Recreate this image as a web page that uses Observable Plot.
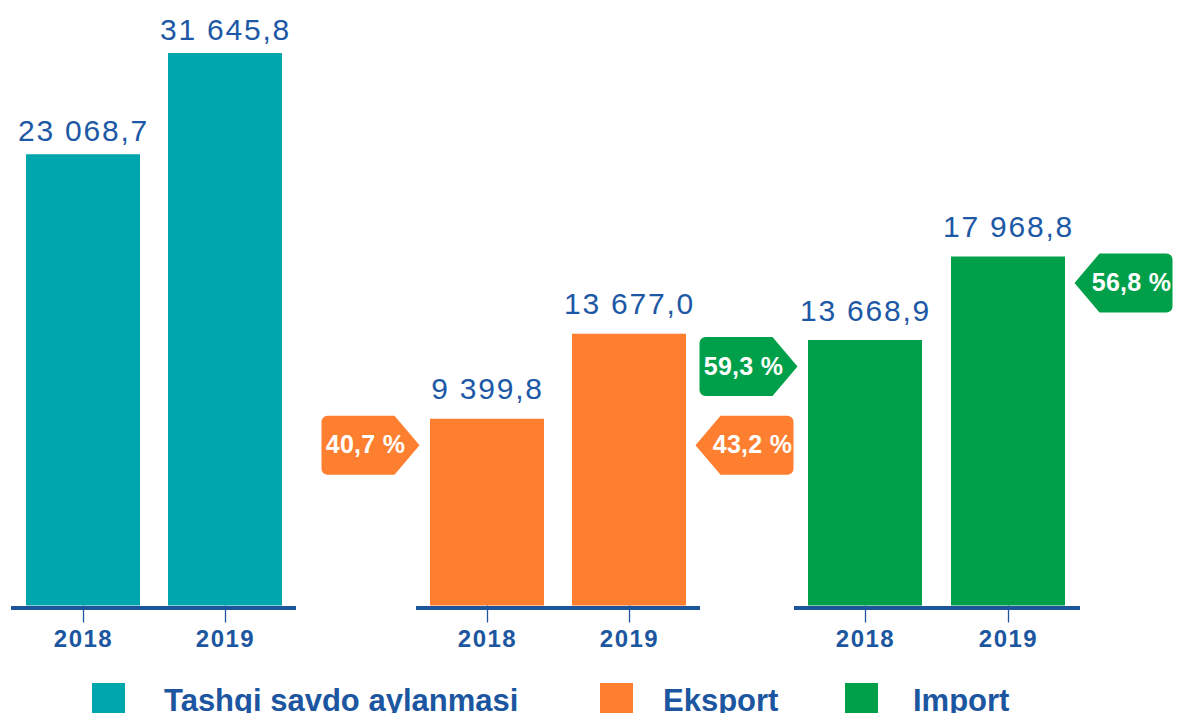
<!DOCTYPE html>
<html>
<head>
<meta charset="utf-8">
<script src="https://cdn.jsdelivr.net/npm/d3@7"></script>
<script src="https://cdn.jsdelivr.net/npm/@observablehq/plot@0.6"></script>
<style>
  body { margin: 0; background: #fff; font-family: Arial, "Liberation Sans", sans-serif; }
  #wrap { position: relative; width: 1183px; height: 713px; overflow: hidden; background: #fff; }
  #wrap svg { position: absolute; left: 0; top: 0; }
  .lg-sw { position: absolute; top: 683px; width: 33px; height: 33px; }
  .lg-tx { position: absolute; top: 685px; line-height: 31px; font-size: 31px; font-weight: bold;
           letter-spacing: 0px; color: #1C56A0; white-space: nowrap; }
</style>
</head>
<body>
<div id="wrap"></div>
<script>
// ---- data ----
const years = ["2018", "2019"];
const turnoverValues = [23068.7, 31645.8];
const exportValues = [9399.8, 13677.0];
const importValues = [13668.9, 17968.8];
const exportShares = [40.7, 43.2];
const importShares = [59.3, 56.8];
// which year's bar each share tag is aligned with
const exportShareLevel = ["2018", "2018"];
const importShareLevel = ["2018", "2019"];
const seriesNames = ["Tashqi savdo aylanmasi", "Eksport", "Import"];
const seriesColors = ["#00A6AE", "#FF7F30", "#00A04B"];

// ---- styling ----
const W = 1183, H = 675, BASE = 605.5;
const blue = "#1C56A0";
const lineBlue = "#1E559B";
const loc = d3.formatLocale({decimal: ",", thousands: "\u00a0", grouping: [3]});
const fmtVal = loc.format(",.1f");
const fmtPct = v => loc.format(".1f")(v) + " %";

function tagSymbol(dir) {
  const L = 98, D = 25, HH = 29.5, R = 6, s = dir;
  return {
    draw(ctx) {
      ctx.moveTo(0, 0);
      ctx.lineTo(-s * D, -HH);
      ctx.lineTo(-s * (L - R), -HH);
      ctx.arcTo(-s * L, -HH, -s * L, -HH + R, R);
      ctx.lineTo(-s * L, HH - R);
      ctx.arcTo(-s * L, HH, -s * (L - R), HH, R);
      ctx.lineTo(-s * D, HH);
      ctx.closePath();
    }
  };
}

const groups = [
  {values: turnoverValues, color: seriesColors[0], left: 11, right: 296,
   y: {type: "pow", exponent: 0.64, domain: [0, 36520]}, labelDy: -14},
  {values: exportValues, color: seriesColors[1], left: 416, right: 700,
   y: {type: "linear", domain: [0, 30473]}, labelDy: -20,
   shares: exportShares, level: exportShareLevel},
  {values: importValues, color: seriesColors[2], left: 794, right: 1080,
   y: {type: "linear", domain: [0, 31176]}, labelDy: -20,
   shares: importShares, level: importShareLevel}
];

const wrap = document.getElementById("wrap");

for (const g of groups) {
  const rows = years.map((year, i) => ({year, value: g.values[i]}));
  const marks = [
    Plot.barY(rows, {x: "year", y: "value", fill: g.color}),
    Plot.ruleY([0], {stroke: lineBlue, strokeWidth: 4, dy: 2}),
    Plot.axisX({tickSize: 17, tickPadding: 6.5, fontSize: 24, fontWeight: "bold",
                color: blue, strokeWidth: 1.3, label: null}),
    Plot.text(rows, {x: "year", y: "value", text: d => fmtVal(d.value), lineAnchor: "bottom",
                     dy: g.labelDy, fontSize: 30, fill: "#1D58A6"})
  ];
  if (g.shares) {
    const tags = years.map((year, i) => ({
      year, share: g.shares[i],
      level: g.values[years.indexOf(g.level[i])]
    }));
    const leftTags = tags.filter(d => d.year === years[0]);
    const rightTags = tags.filter(d => d.year === years[1]);
    marks.push(
      Plot.dot(leftTags, {x: "year", y: "level", symbol: tagSymbol(1), fill: g.color, stroke: "none", dx: -68, dy: 26}),
      Plot.dot(rightTags, {x: "year", y: "level", symbol: tagSymbol(-1), fill: g.color, stroke: "none", dx: 66, dy: 26}),
      Plot.text(leftTags, {x: "year", y: "level", text: d => fmtPct(d.share), dx: -122, dy: 26,
                           fontSize: 25, fontWeight: "bold", fill: "white", lineAnchor: "middle"}),
      Plot.text(rightTags, {x: "year", y: "level", text: d => fmtPct(d.share), dx: 123, dy: 26,
                            fontSize: 25, fontWeight: "bold", fill: "white", lineAnchor: "middle"})
    );
  }
  const svg = Plot.plot({
    width: W, height: H,
    marginLeft: g.left, marginRight: W - g.right, marginTop: 0, marginBottom: H - BASE,
    style: "background: transparent; overflow: visible; font-family: Arial, 'Liberation Sans', sans-serif;",
    x: {type: "band", domain: years, paddingInner: 0.2, paddingOuter: 0.1, axis: null, label: null},
    y: {...g.y, axis: null},
    marks
  });
  svg.querySelectorAll("g[font-size]").forEach(el => {
    const fs = +el.getAttribute("font-size");
    if (fs === 30) el.style.letterSpacing = "1.8px";
    else if (fs === 24) el.style.letterSpacing = "1.5px";
    else if (fs === 25) el.style.letterSpacing = "0.3px";
  });
  wrap.appendChild(svg);
}

// ---- legend (below the chart) ----
const legendPos = [{sw: 92, tx: 164}, {sw: 600, tx: 663}, {sw: 845, tx: 913}];
seriesNames.forEach((name, i) => {
  const sw = document.createElement("div");
  sw.className = "lg-sw";
  sw.style.left = legendPos[i].sw + "px";
  sw.style.background = seriesColors[i];
  wrap.appendChild(sw);
  const tx = document.createElement("div");
  tx.className = "lg-tx";
  tx.style.left = legendPos[i].tx + "px";
  tx.textContent = name;
  wrap.appendChild(tx);
});
</script>
</body>
</html>
